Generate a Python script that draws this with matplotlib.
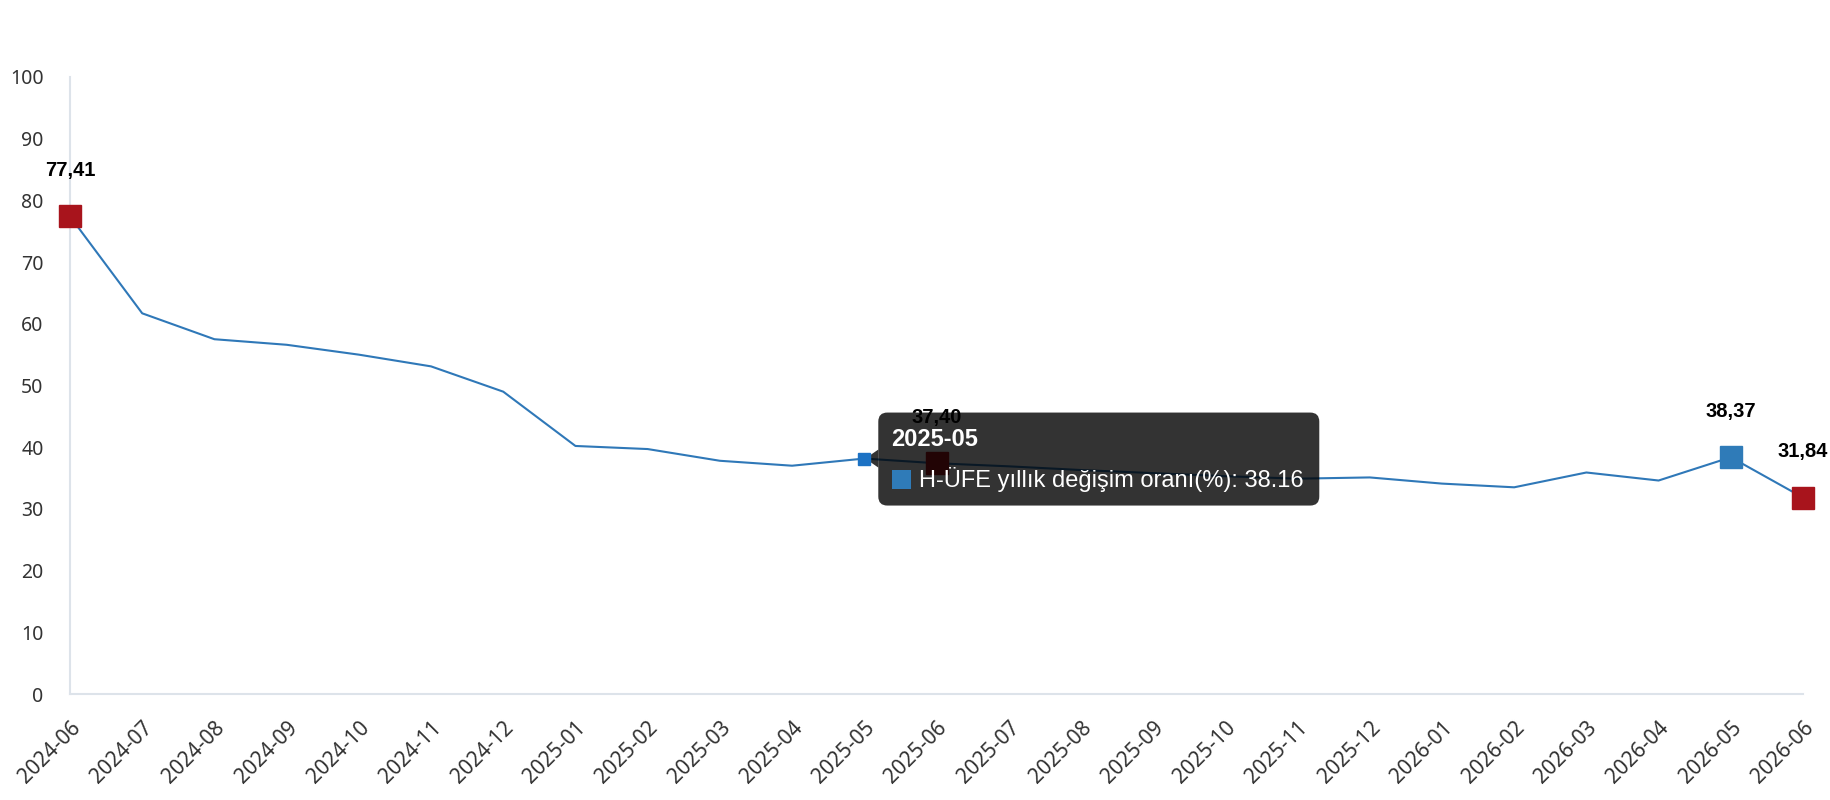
import matplotlib
matplotlib.use("Agg")
import matplotlib.pyplot as plt
from matplotlib.patches import FancyBboxPatch, Polygon, Rectangle
from matplotlib.transforms import IdentityTransform

# monthly H-UFE annual change (%)
months = ["2024-06", "2024-07", "2024-08", "2024-09", "2024-10", "2024-11", "2024-12",
          "2025-01", "2025-02", "2025-03", "2025-04", "2025-05", "2025-06", "2025-07",
          "2025-08", "2025-09", "2025-10", "2025-11", "2025-12", "2026-01", "2026-02",
          "2026-03", "2026-04", "2026-05", "2026-06"]
values = [77.41, 61.7, 57.5, 56.6, 55.0, 53.1, 49.0,
          40.2, 39.7, 37.8, 37.0, 38.16, 37.40, 36.9,
          36.3, 35.8, 35.3, 34.9, 35.1, 34.1, 33.5,
          35.9, 34.6, 38.37, 31.84]

# highlighted points: index -> colour
highlights = {0: "#a8141c", 12: "#a8141c", 23: "#2f7bb8", 24: "#a8141c"}
hover_idx = 11
series_name = "H-ÜFE yıllık değişim oranı(%)"

W, H = 1830, 800
fig = plt.figure(figsize=(W / 100, H / 100), dpi=100)
ax = fig.add_axes([70 / W, 1 - 694 / H, (1803 - 70) / W, (694 - 77) / H])

x = list(range(len(months)))
ax.plot(x, values, color="#2f78b8", lw=1.5, zorder=3)

for i, c in highlights.items():
    ax.plot(x[i], values[i], marker="s", ms=16, color=c, mec=c, zorder=4, clip_on=False)
    ax.annotate(f"{values[i]:.2f}".replace(".", ","), (x[i], values[i]),
                xytext=(0, 33), textcoords="offset points", ha="center", va="center",
                fontsize=14.5, fontweight="bold", family="Liberation Sans",
                color="black", zorder=8, annotation_clip=False)

ax.set_xlim(0, len(months) - 1)
ax.set_ylim(0, 100)
ax.set_yticks(range(0, 101, 10))
ax.set_xticks(x)
ax.set_xticklabels(months, rotation=45, ha="right", va="top", rotation_mode="anchor")
ax.tick_params(axis="both", length=0, labelcolor="#333333")
ax.tick_params(axis="y", pad=19, labelsize=14)
ax.tick_params(axis="x", pad=17, labelsize=15)
for lab in ax.get_xticklabels() + ax.get_yticklabels():
    lab.set_family("Noto Sans")

for s in ["top", "right"]:
    ax.spines[s].set_visible(False)
for s in ["left", "bottom"]:
    ax.spines[s].set_color("#dde3ea")
    ax.spines[s].set_linewidth(1.5)

# tooltip at hovered point
fig.canvas.draw()
px, py = ax.transData.transform((x[hover_idx], values[hover_idx]))
bx0, bw = px + 14, 441
by1 = py + 46
by0 = py - 47
tip = FancyBboxPatch((bx0, by0), bw, by1 - by0,
                     boxstyle="round,pad=0,rounding_size=9",
                     transform=IdentityTransform(), facecolor="black", alpha=0.8,
                     edgecolor="none", zorder=5, clip_on=False)
ax.add_patch(tip)
arrow = Polygon([(bx0, py + 9), (px + 1, py), (bx0, py - 9)], closed=True,
                transform=IdentityTransform(), facecolor="black", alpha=0.8,
                edgecolor="none", zorder=5, clip_on=False)
ax.add_patch(arrow)
ax.plot(x[hover_idx], values[hover_idx], marker="s", ms=8, color="#1c72c4",
        zorder=7, clip_on=False)

ax.text(bx0 + 13, by1 - 15, months[hover_idx], transform=IdentityTransform(),
        ha="left", va="top", color="white", fontsize=17, fontweight="bold",
        family="Liberation Sans", zorder=6)
ax.add_patch(Rectangle((bx0 + 14, by1 - 76), 19, 19, transform=IdentityTransform(),
                       facecolor="#2f7bb8", edgecolor="none", zorder=6, clip_on=False))
ax.text(bx0 + 41, by1 - 67, f"{series_name}: {values[hover_idx]:.2f}",
        transform=IdentityTransform(), ha="left", va="center", color="white",
        fontsize=17, family="Liberation Sans", zorder=6)

fig.savefig("out.png", dpi=100)
